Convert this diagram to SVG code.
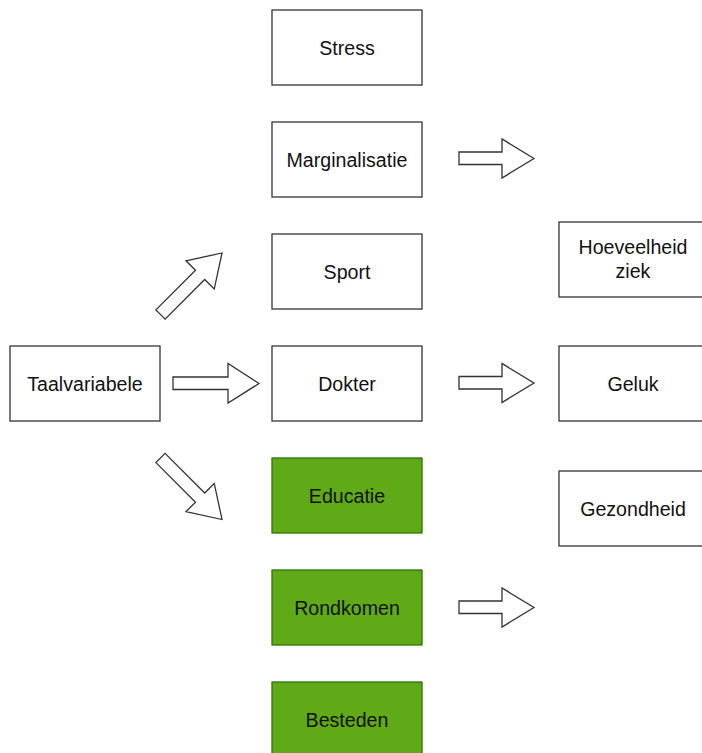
<svg xmlns="http://www.w3.org/2000/svg" width="702" height="753" viewBox="0 0 702 753">
<defs>
<style>
.box{fill:#ffffff;stroke:#333333;stroke-width:1.3}
.green{fill:#60a917;stroke:#2d7600;stroke-width:1.3}
.t{font-family:"Liberation Sans",Arial,sans-serif;font-size:19.6px;fill:#111111;text-anchor:middle}
.arr{fill:#ffffff;stroke:#333333;stroke-width:1.3;stroke-linejoin:miter}
</style>
</defs>
<rect width="702" height="753" fill="#ffffff"/>
<g id="stress"><rect class="box" x="272" y="10" width="150" height="75"/><text class="t" x="347" y="54.5">Stress</text></g>
<g id="marginalisatie"><rect class="box" x="272" y="122" width="150" height="75"/><text class="t" x="347" y="166.5">Marginalisatie</text></g>
<g id="sport"><rect class="box" x="272" y="234" width="150" height="75"/><text class="t" x="347" y="278.5">Sport</text></g>
<g id="dokter"><rect class="box" x="272" y="346" width="150" height="75"/><text class="t" x="347" y="390.5">Dokter</text></g>
<g id="educatie"><rect class="green" x="272" y="458" width="150" height="75"/><text class="t" x="347" y="502.5">Educatie</text></g>
<g id="rondkomen"><rect class="green" x="272" y="570" width="150" height="75"/><text class="t" x="347" y="614.5">Rondkomen</text></g>
<g id="besteden"><rect class="green" x="272" y="682" width="150" height="75"/><text class="t" x="347" y="726.5">Besteden</text></g>
<g id="taalvariabele"><rect class="box" x="10" y="346" width="150" height="75"/><text class="t" x="85" y="390.5">Taalvariabele</text></g>
<g id="hoeveelheid"><rect class="box" x="559" y="222" width="150" height="75"/><text class="t" x="633" y="254">Hoeveelheid</text><text class="t" x="633" y="277.5">ziek</text></g>
<g id="geluk"><rect class="box" x="559" y="346" width="150" height="75"/><text class="t" x="633" y="390.5">Geluk</text></g>
<g id="gezondheid"><rect class="box" x="559" y="471" width="150" height="75"/><text class="t" x="633" y="515.5">Gezondheid</text></g>
<g id="connectors">
<path class="arr" d="M173,377 H228 V363.5 L259,383.5 L228,403 V389.5 H173 Z"/>
<path class="arr" d="M0,-6.5 H56 V-20 L87,0 L56,20 V6.5 H0 Z" transform="translate(160.5,314.5) rotate(-45)"/>
<path class="arr" d="M0,-6.5 H56 V-20 L87,0 L56,20 V6.5 H0 Z" transform="translate(160.5,458) rotate(45)"/>
<path class="arr" d="M459,152 H502 V139 L534,158.5 L502,178 V164.5 H459 Z"/>
<path class="arr" d="M459,376.5 H502 V363.5 L534,383 L502,402.5 V389 H459 Z"/>
<path class="arr" d="M459,601 H502 V588 L534,607.5 L502,627 V613.5 H459 Z"/>
</g>
</svg>
